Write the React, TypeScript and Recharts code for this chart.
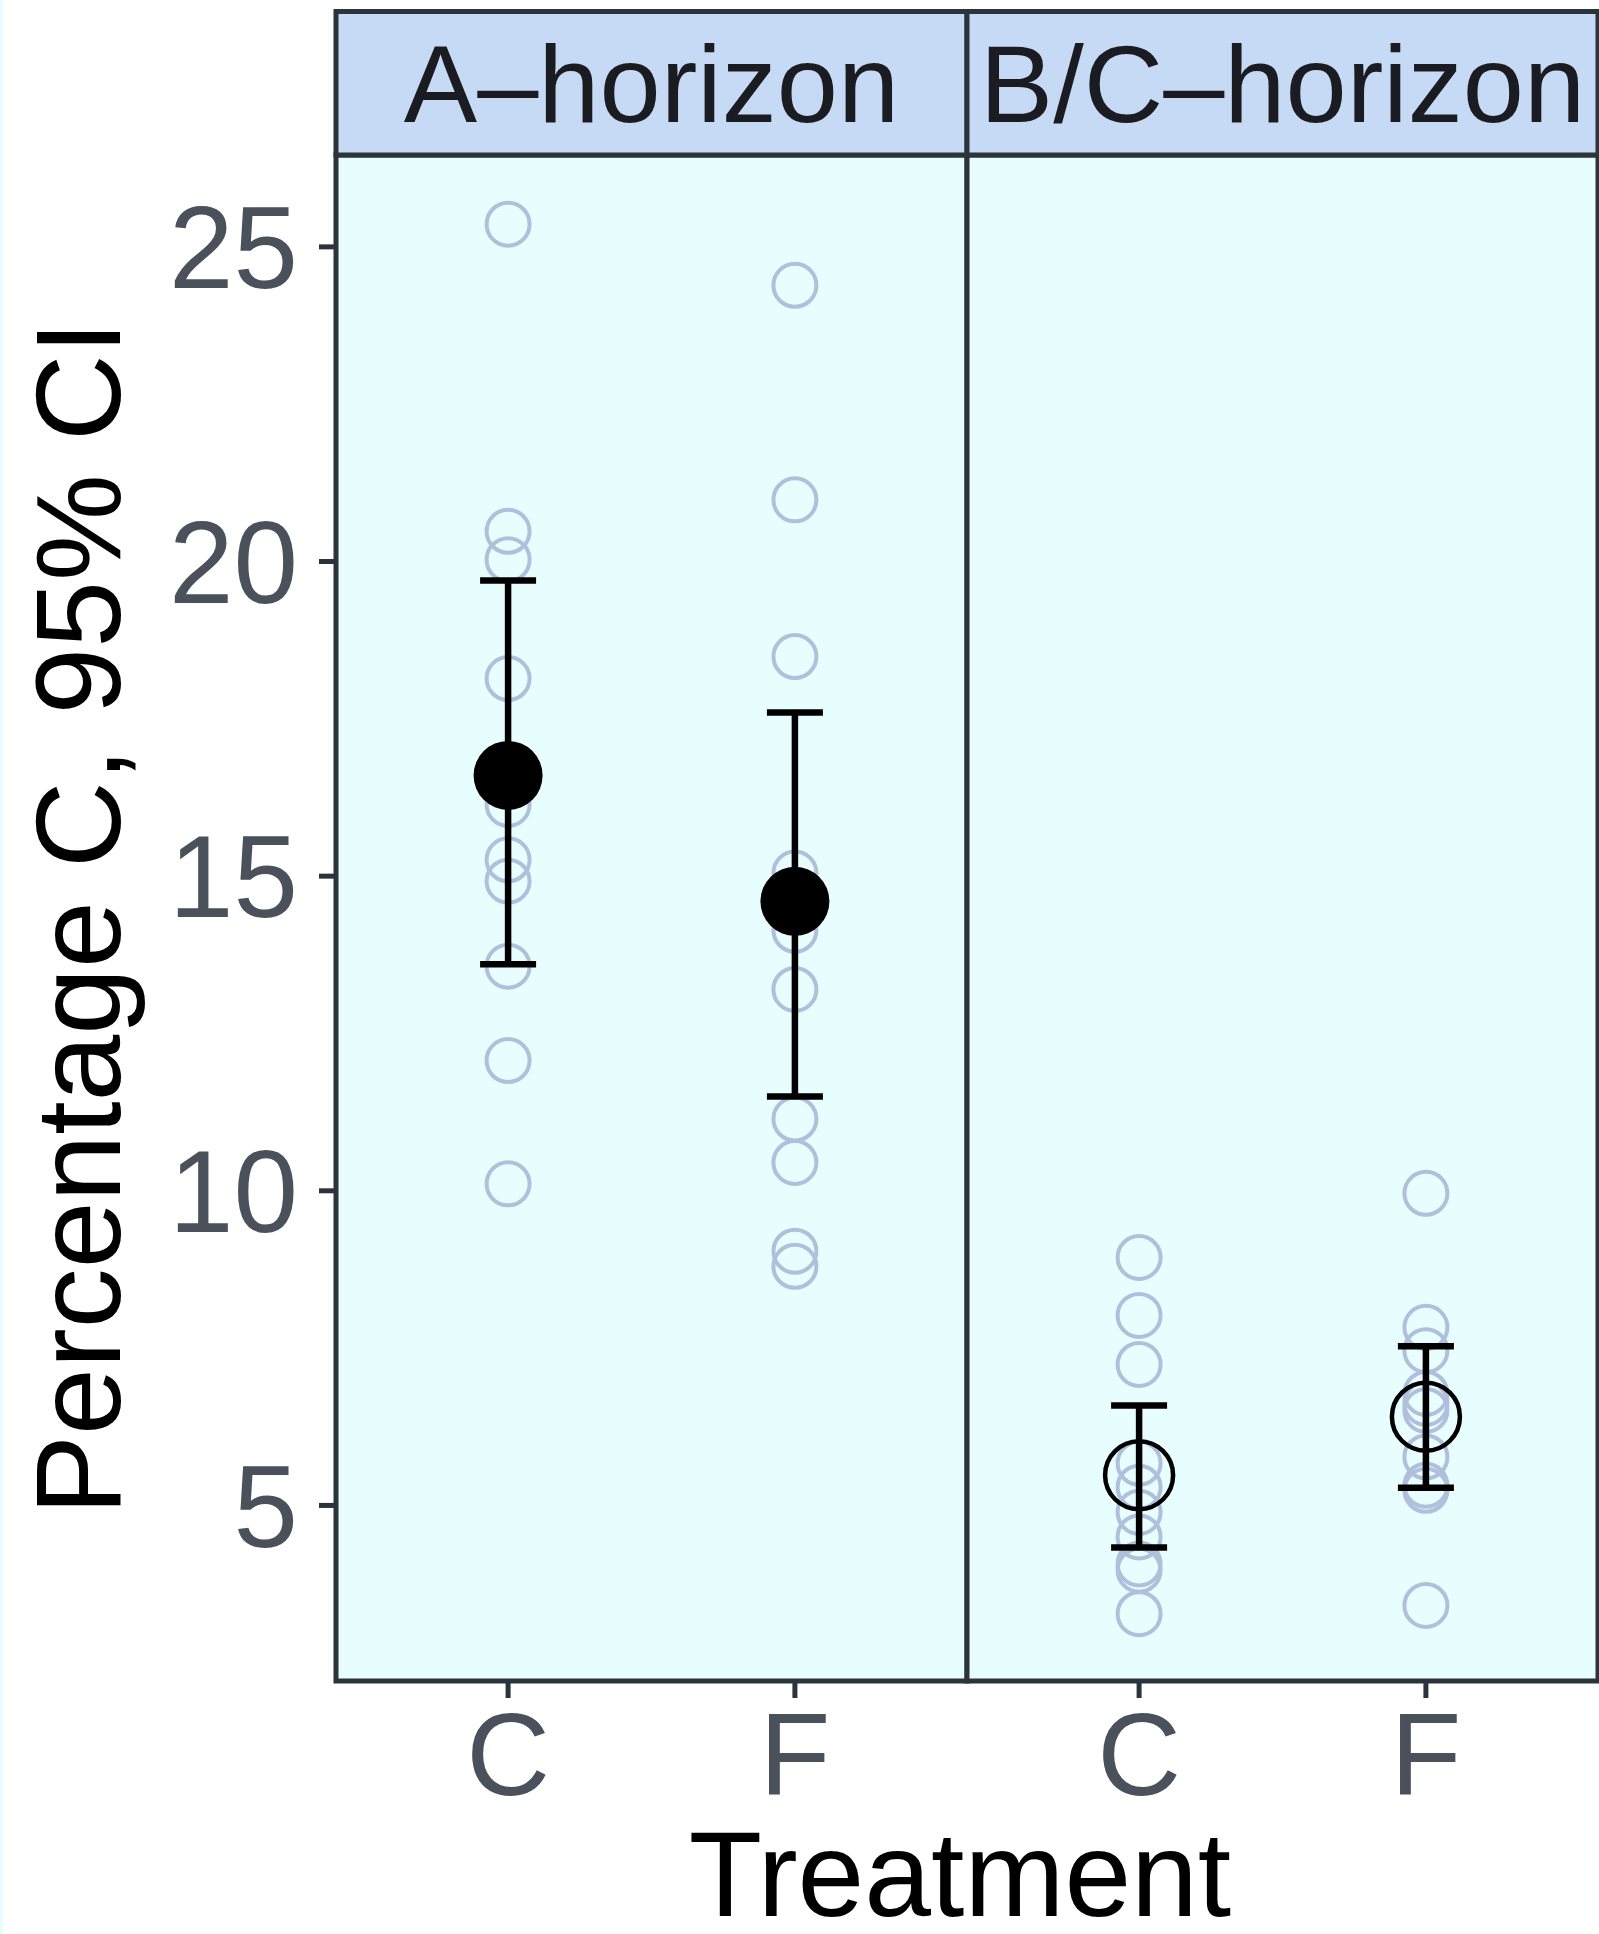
import React from 'react';
import {
  ScatterChart,
  Scatter,
  XAxis,
  YAxis,
  ReferenceArea,
  ErrorBar
} from 'recharts';

const horizons = ['A–horizon', 'B/C–horizon'];
const treatments = ['C', 'F'];
const yTicks = [5, 10, 15, 20, 25];

// % C of each sample, per horizon and treatment
const aHorizonC = [25.36, 20.48, 20.03, 18.14, 16.14, 15.26, 14.92, 13.57, 12.07, 10.11];
const aHorizonF = [24.39, 20.98, 18.49, 15.05, 14.14, 13.2, 11.14, 10.45, 9.04, 8.8];
const bcHorizonC = [8.94, 8.02, 7.24, 5.67, 5.29, 4.89, 4.5, 4.07, 3.97, 3.28];
const bcHorizonF = [9.96, 7.83, 7.46, 6.78, 6.62, 6.51, 5.77, 5.32, 5.24, 3.41];

// group means and 95% CI
const means = [16.6, 14.6, 5.48, 6.41];
const ciLow = [13.6, 11.5, 4.33, 5.28];
const ciHigh = [19.7, 17.6, 6.59, 7.53];

// each facet spans 2.2 units (two categories plus 0.6 padding each side)
const PANEL = 2.2;
const X_MIN = 0.4;
const X_MID = X_MIN + PANEL;
const X_MAX = X_MID + PANEL;
const groupX = (g: number) => Math.floor(g / 2) * PANEL + (g % 2) + 1;

// y extents (ggplot-style expansion), strip sits above the panel
const Y_MIN = 2.21;
const Y_MAX = 26.46;
const STRIP_TOP = 28.74;

const samples = [aHorizonC, aHorizonF, bcHorizonC, bcHorizonF];
const rawData = samples.flatMap((vals, g) => vals.map((y) => ({ x: groupX(g), y })));
const meanData = means.map((m, g) => ({
  x: groupX(g),
  y: m,
  err: [m - ciLow[g], ciHigh[g] - m]
}));
const meansA = meanData.slice(0, 2);
const meansBC = meanData.slice(2);
const xTicks = samples.map((_, g) => groupX(g));

const FONT = 'Liberation Sans, Arial, sans-serif';
const BORDER = '#2b333b';
const TICK_TEXT = '#4a515b';

const SamplePoint = (props: any) => (
  <circle cx={props.cx} cy={props.cy} r={21.5} fill="none" stroke="#b0bfdc" strokeWidth={4} />
);

const MeanFilled = (props: any) => (
  <circle cx={props.cx} cy={props.cy} r={34.5} fill="#000" />
);

const MeanOpen = (props: any) => (
  <circle cx={props.cx} cy={props.cy} r={34} fill="none" stroke="#000" strokeWidth={4.5} />
);

const stripLabel = (text: string) => ({
  value: text,
  position: 'center' as const,
  fontSize: 110,
  fill: '#1a1c22',
  fontFamily: FONT
});

export default function App() {
  return (
    <div style={{ position: 'absolute', left: 0, top: 0, background: '#fff' }}>
      <div style={{ position: 'absolute', left: 0, top: 0, width: 3, height: 1934, background: '#e8fdfd' }} />
      <ScatterChart width={1599} height={1934} margin={{ top: 155, right: 1, bottom: 0, left: 0 }}>
        <XAxis
          type="number"
          dataKey="x"
          domain={[X_MIN, X_MAX]}
          ticks={xTicks}
          interval={0}
          allowDataOverflow
          tickFormatter={(v, i) => treatments[i % 2]}
          height={253}
          axisLine={false}
          tickSize={17}
          tickMargin={15}
          tickLine={{ stroke: BORDER, strokeWidth: 5 }}
          tick={{ fontSize: 116, fill: TICK_TEXT, fontFamily: FONT }}
          label={{
            value: 'Treatment',
            position: 'insideBottom',
            offset: 18,
            dx: -7,
            fontSize: 120,
            fill: '#000',
            fontFamily: FONT
          }}
        />
        <YAxis
          type="number"
          dataKey="y"
          domain={[Y_MIN, Y_MAX]}
          ticks={yTicks}
          interval={0}
          allowDataOverflow
          width={336}
          axisLine={false}
          tickSize={17}
          tickMargin={21}
          tickLine={{ stroke: BORDER, strokeWidth: 5 }}
          tick={{ fontSize: 116, fill: TICK_TEXT, fontFamily: FONT }}
          label={{
            value: 'Percentage C, 95% CI',
            angle: -90,
            position: 'insideLeft',
            offset: 77,
            fontSize: 120,
            fill: '#000',
            fontFamily: FONT,
            style: { textAnchor: 'middle' }
          }}
        />

        <ReferenceArea x1={X_MIN} x2={X_MID} y1={Y_MIN} y2={Y_MAX} fill="#e8fdfd" fillOpacity={1} stroke={BORDER} strokeWidth={5} />
        <ReferenceArea x1={X_MID} x2={X_MAX} y1={Y_MIN} y2={Y_MAX} fill="#e8fdfd" fillOpacity={1} stroke={BORDER} strokeWidth={5} />
        <ReferenceArea
          x1={X_MIN}
          x2={X_MID}
          y1={Y_MAX}
          y2={STRIP_TOP}
          ifOverflow="visible"
          fill="#c6daf6"
          fillOpacity={1}
          stroke={BORDER}
          strokeWidth={5}
          label={stripLabel(horizons[0])}
        />
        <ReferenceArea
          x1={X_MID}
          x2={X_MAX}
          y1={Y_MAX}
          y2={STRIP_TOP}
          ifOverflow="visible"
          fill="#c6daf6"
          fillOpacity={1}
          stroke={BORDER}
          strokeWidth={5}
          label={stripLabel(horizons[1])}
        />

        <Scatter data={rawData} shape={SamplePoint} isAnimationActive={false} />
        <Scatter data={meansA} shape={MeanFilled} isAnimationActive={false} zIndex={1100}>
          <ErrorBar
            dataKey="err"
            direction="y"
            width={28}
            strokeWidth={6.5}
            stroke="#000"
            isAnimationActive={false}
            zIndex={1000}
          />
        </Scatter>
        <Scatter data={meansBC} shape={MeanOpen} isAnimationActive={false} zIndex={1100}>
          <ErrorBar
            dataKey="err"
            direction="y"
            width={28}
            strokeWidth={6.5}
            stroke="#000"
            isAnimationActive={false}
            zIndex={1000}
          />
        </Scatter>
      </ScatterChart>
    </div>
  );
}
